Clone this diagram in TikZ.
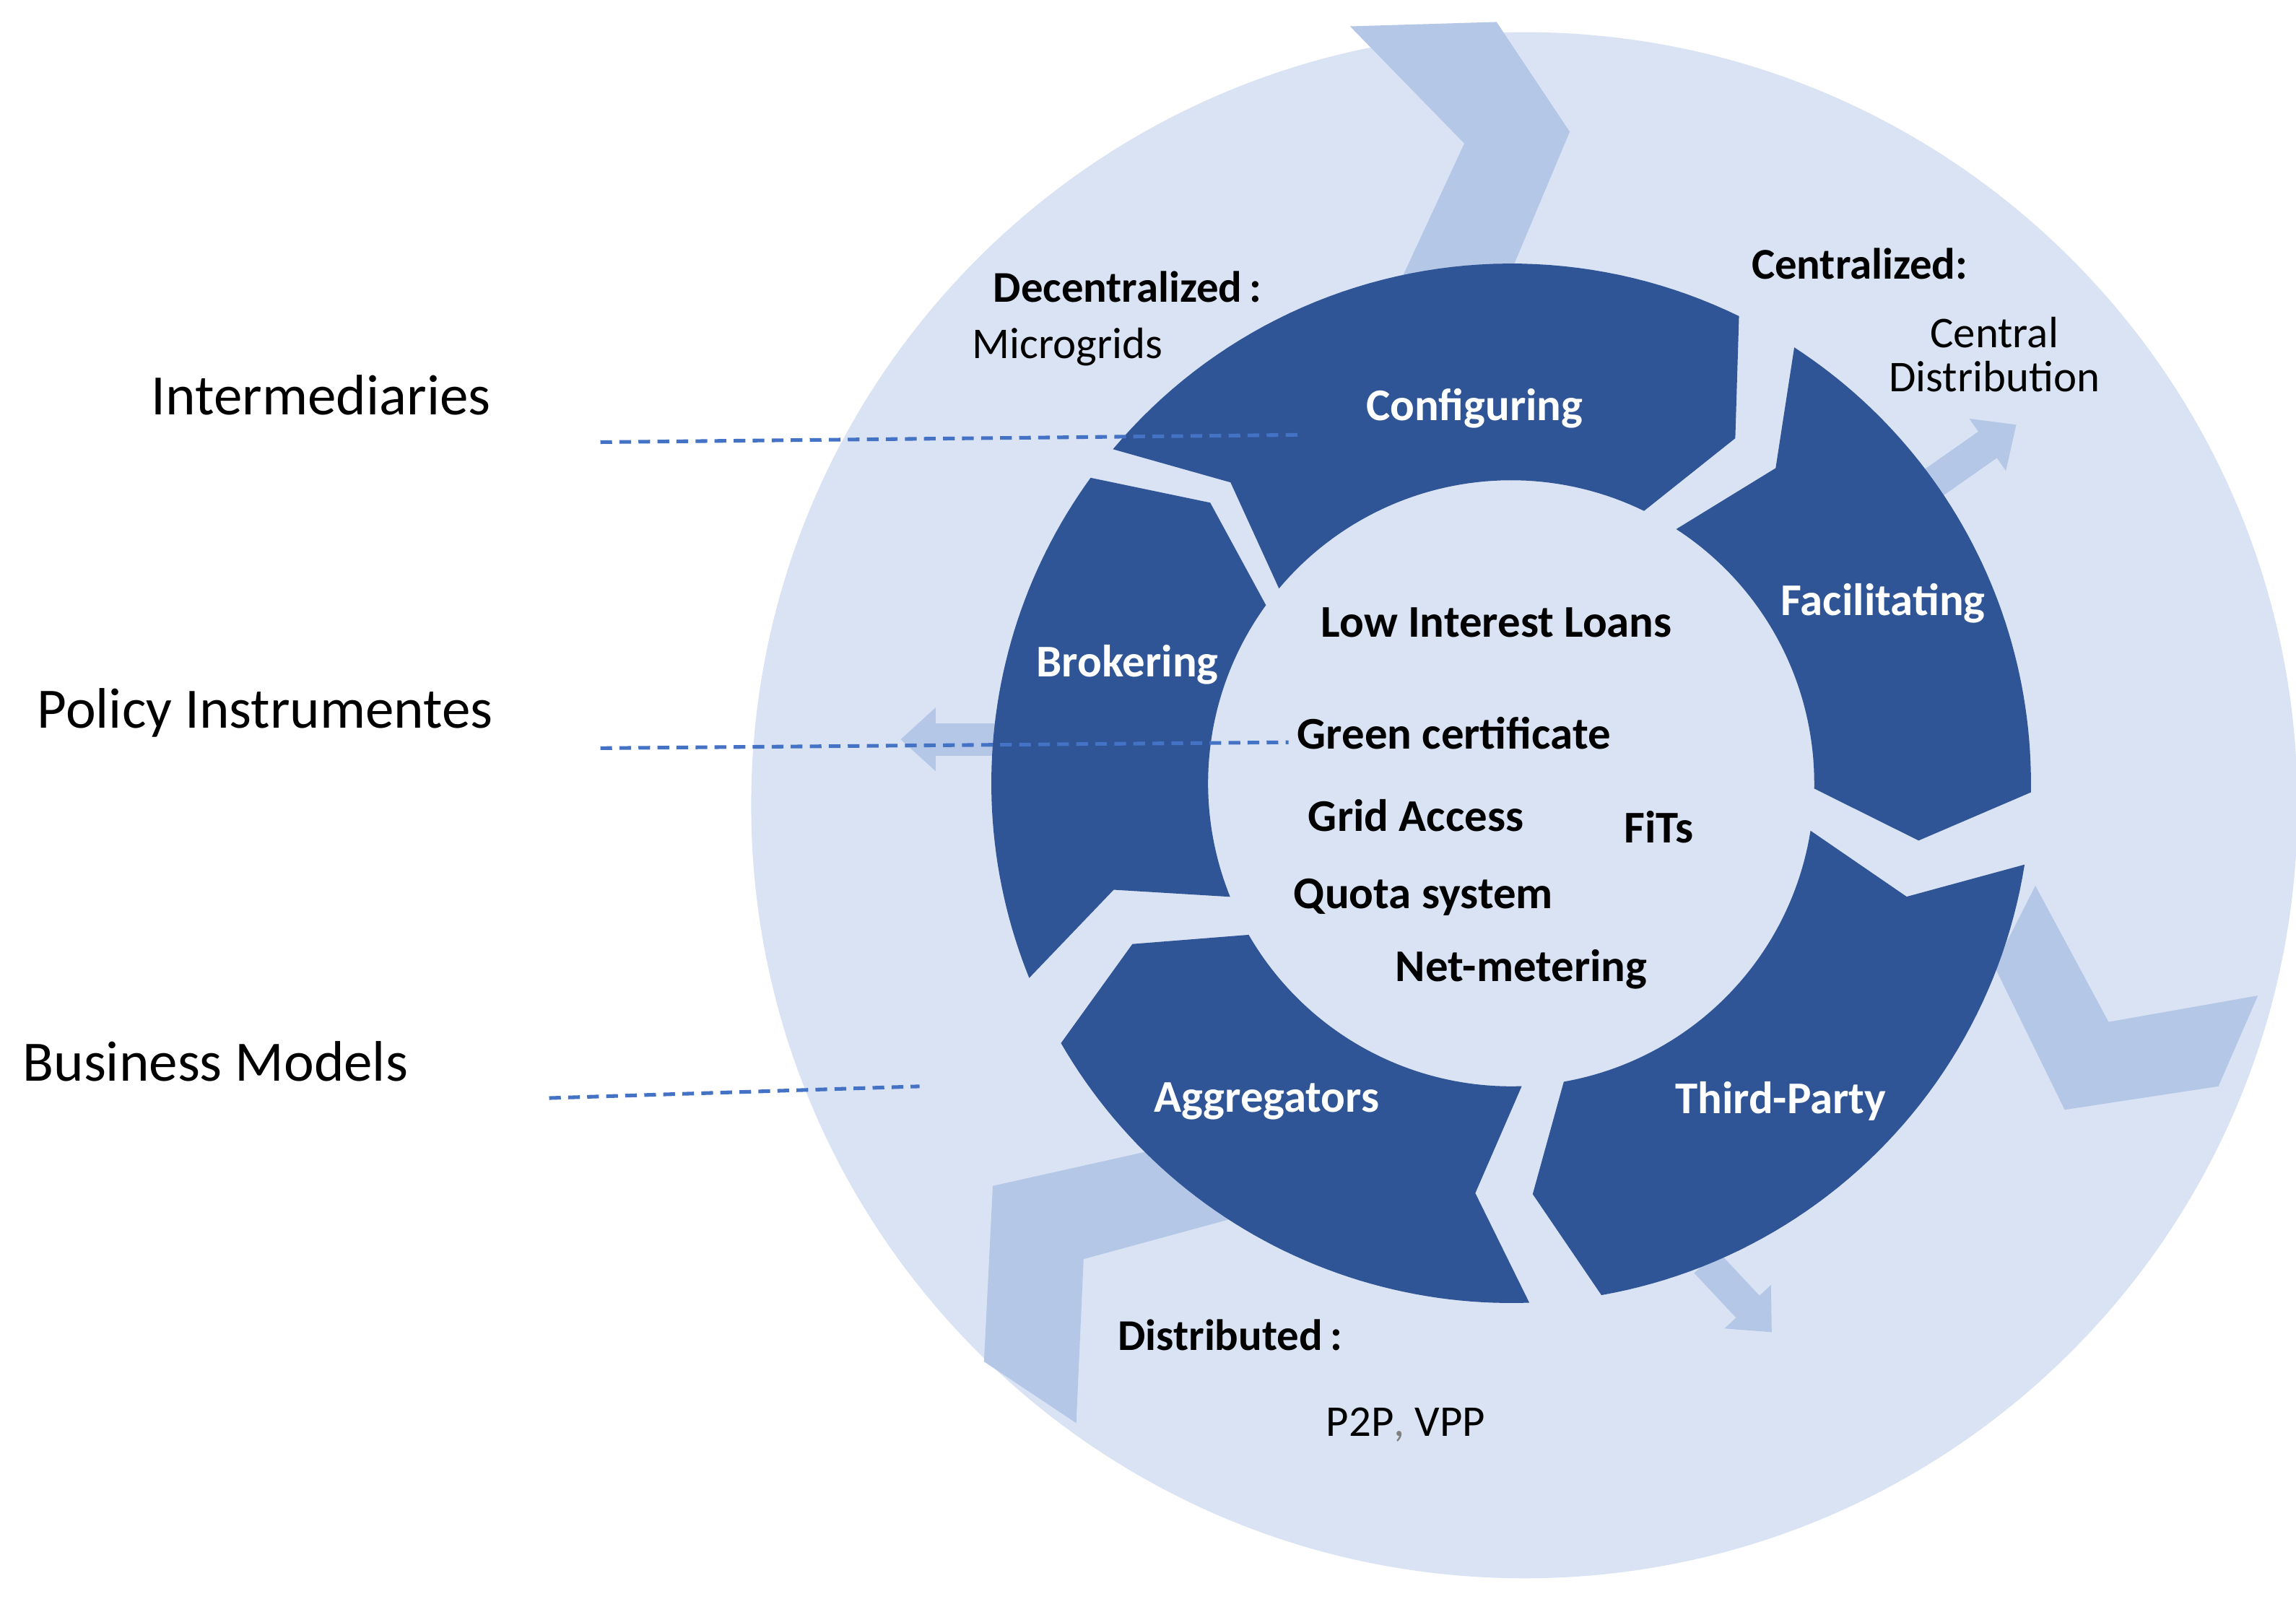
\documentclass[tikz,border=0pt]{standalone}
\usepackage{fontspec}
\setmainfont{Carlito}
\usetikzlibrary{arrows.meta}
\definecolor{ring}{HTML}{DAE3F3}
\definecolor{chev}{HTML}{B4C7E7}
\definecolor{dark}{HTML}{2F5597}
\definecolor{dashcol}{HTML}{4472C4}
\newcommand{\seg}[2]{%
\fill[dark] plot[domain=#1:#2,samples=50] ({1032+355*cos(\x)},{535-355*sin(\x)})
 -- ({1032+281*cos(#2-7)},{535-281*sin(#2-7)})
 -- plot[domain=#2:#1,samples=50] ({1032+207*cos(\x)},{535-207*sin(\x)})
 -- ({1032+281*cos(#1-7)},{535-281*sin(#1-7)}) -- cycle;}
\begin{document}
\begin{tikzpicture}[x=1pt,y=-1pt,
 side/.style={font=\fontsize{39}{44}\selectfont,anchor=west},
 seglab/.style={font=\fontsize{31}{36}\selectfont\bfseries,text=white},
 inlab/.style={font=\fontsize{31}{36}\selectfont\bfseries},
 outb/.style={font=\fontsize{30}{34}\selectfont\bfseries},
 outr/.style={font=\fontsize{30}{34}\selectfont,align=center},
 dl/.style={draw=dashcol,dash pattern=on 8pt off 5pt,line width=2.5pt}]
\fill[white] (0,0) rectangle (1568,1101);
\useasboundingbox (0,0) rectangle (1568,1101);
\fill[ring] (1041,550) circle (528);
% chevrons
\fill[chev] (922,18) -- (1022,15) -- (1072,90) -- (1030,190) -- (955,195) -- (1000,98) -- cycle;
\fill[chev] (1390,605) -- (1440,698) -- (1542,680) -- (1515,742) -- (1410,758) -- (1362,660) -- cycle;
\fill[chev] (790,785) -- (850,830) -- (740,860) -- (735,972) -- (672,930) -- (678,810) -- cycle;
\draw[chev,line width=22pt,-{Triangle[length=24pt,width=42pt]}] (1320,330) -- (1377,290);
\draw[chev,line width=22pt,-{Triangle[length=24pt,width=42pt]}] (690,505) -- (615,505);
\draw[chev,line width=22pt,-{Triangle[length=24pt,width=42pt]}] (1165,862) -- (1210,910);
% ring segments
\seg{140}{64}
\seg{57}{-1}
\seg{-9}{-80}
\seg{-88}{-150}
\seg{-158}{-216}
% dashed lines
\coordinate (d1a) at (410,302); \coordinate (d1b) at (888,297);
\coordinate (d2a) at (410,511); \coordinate (d2b) at (880,507);
\coordinate (d3a) at (375,750); \coordinate (d3b) at (628,742);
\draw[dl] (d1a) -- (d1b);
\draw[dl] (d2a) -- (d2b);
\draw[dl] (d3a) -- (d3b);
% side labels
\node[side] (t1) at (100,270) {Intermediaries};
\node[side] (t2) at (22,487) {Policy Instrumentes};
\node[side] (t3) at (12,725) {Business Models};
% segment labels
\node[seglab] (s1) at (1007,279) {Configuring};
\node[seglab] (s2) at (1286,412) {Facilitating};
\node[seglab] (s3) at (1216,752) {Third-Party};
\node[seglab] (s4) at (865,752) {Aggregators};
\node[seglab] (s5) at (770,454) {Brokering};
% inner
\node[inlab] (i1) at (1022,425) {Low Interest Loans};
\node[inlab] (i2) at (993,501) {Green certificate};
\node[inlab] (i3) at (967,557) {Grid Access};
\node[inlab] (i4) at (1133,565) {FiTs};
\node[inlab] (i5) at (972,613) {Quota system};
\node[inlab] (i6) at (1039,662) {Net-metering};
% outer
\node[outb] (o1) at (770,196) {Decentralized\,:};
\node[outr] (o2) at (729,237) {Microgrids};
\node[outb] (o3) at (1270,180) {Centralized:};
\node[outr] (o4) at (1362,242) {Central\\[-4pt]Distribution};
\node[outb] (o5) at (840,912) {Distributed\,:};
\node[outr] (o6) at (960,973) {P2P{\color{gray},} VPP};
\end{tikzpicture}
\end{document}
